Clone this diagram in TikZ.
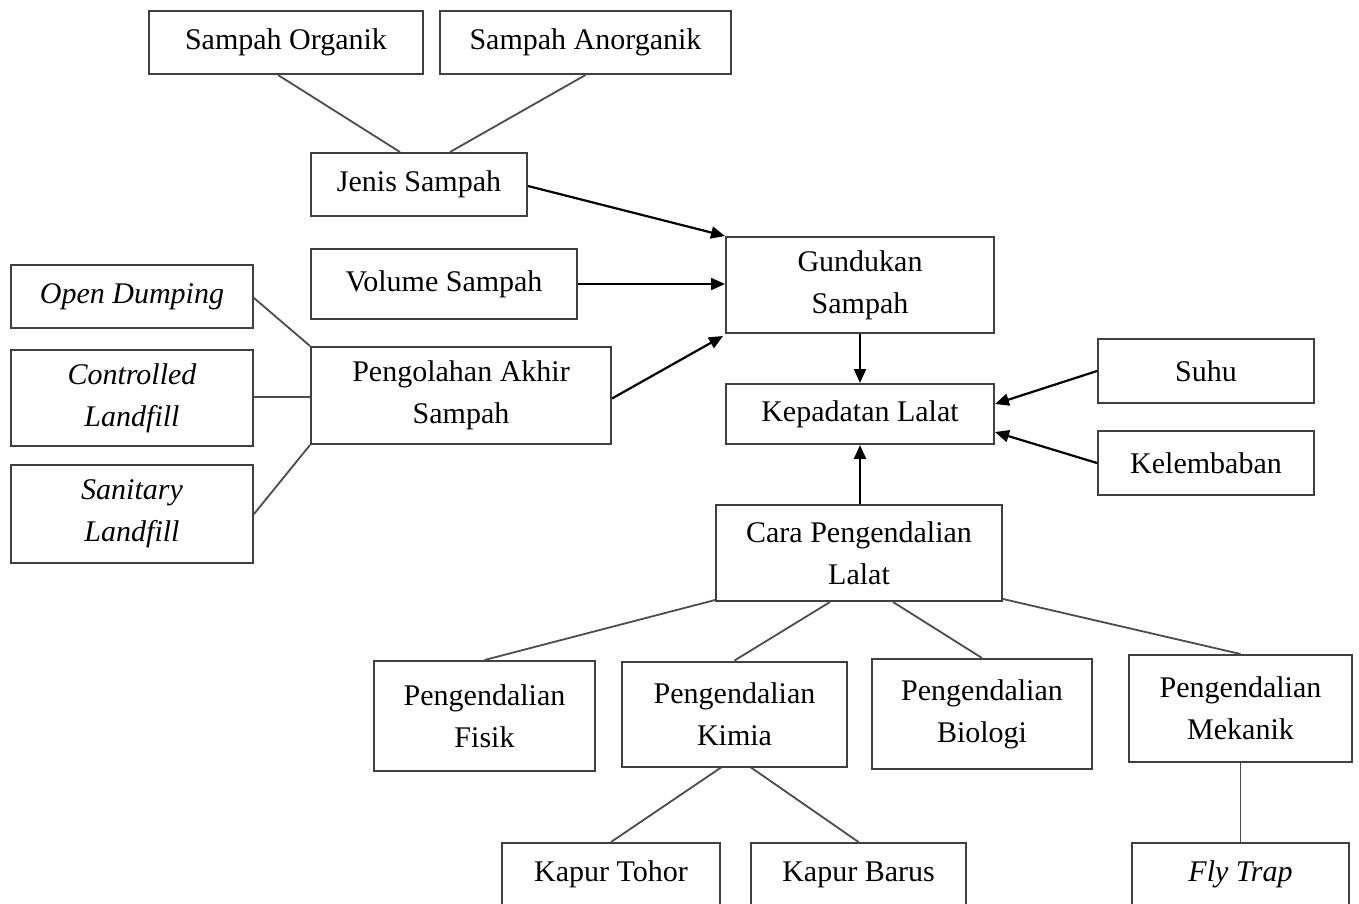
\documentclass[tikz,border=0pt]{standalone}
\usepackage{fontspec}
\setmainfont{Liberation Serif}
\usetikzlibrary{arrows.meta,calc}
\begin{document}
\begin{tikzpicture}[x=1pt,y=-1pt,
  bx/.style={draw=black!75, line width=2pt, fill=white, inner sep=0pt, align=center, font=\fontsize{30}{42}\selectfont},
  ln/.style={draw=black!70, line width=1.8pt},
  ar/.style={draw=black, line width=2.2pt, -{Triangle[length=14pt,width=12pt]}}]
\useasboundingbox (0,0) rectangle (1359,903);
\fill[white] (0,0) rectangle (1359,903);
% nodes
\node[bx, minimum width=274pt, minimum height=63pt] (org) at (286,42.5) {Sampah Organik};
\node[bx, minimum width=291pt, minimum height=63pt] (anorg) at (585.5,42.5) {Sampah Anorganik};
\node[bx, minimum width=216pt, minimum height=63pt] (jenis) at (419,184.5) {Jenis Sampah};
\node[bx, minimum width=266pt, minimum height=70pt] (volume) at (444,284) {Volume Sampah};
\node[bx, minimum width=268pt, minimum height=96pt] (gund) at (860,285) {Gundukan\\Sampah};
\node[bx, minimum width=300pt, minimum height=97pt] (peng) at (461,395.5) {Pengolahan Akhir\\Sampah};
\node[bx, minimum width=242pt, minimum height=63pt] (open) at (132,296.5) {\itshape Open Dumping};
\node[bx, minimum width=242pt, minimum height=96pt] (contr) at (132,398) {\itshape Controlled\\\itshape Landfill};
\node[bx, minimum width=242pt, minimum height=98pt] (sanit) at (132,514) {\itshape Sanitary\\\itshape Landfill};
\node[bx, minimum width=268pt, minimum height=60pt] (kep) at (860,414) {Kepadatan Lalat};
\node[bx, minimum width=216pt, minimum height=64pt] (suhu) at (1206,371) {Suhu};
\node[bx, minimum width=216pt, minimum height=64pt] (kelem) at (1206,463) {Kelembaban};
\node[bx, minimum width=286pt, minimum height=96pt] (cara) at (859,553) {Cara Pengendalian\\Lalat};
\node[bx, minimum width=221pt, minimum height=110pt] (fisik) at (484.5,716) {Pengendalian\\Fisik};
\node[bx, minimum width=225pt, minimum height=105pt] (kimia) at (734.5,714) {Pengendalian\\Kimia};
\node[bx, minimum width=220pt, minimum height=110pt] (bio) at (982,714) {Pengendalian\\Biologi};
\node[bx, minimum width=223pt, minimum height=107pt] (mek) at (1240.5,708.5) {Pengendalian\\Mekanik};
\node[bx, minimum width=218pt, minimum height=63pt] (tohor) at (611,874.5) {Kapur Tohor};
\node[bx, minimum width=215pt, minimum height=63pt] (barus) at (858.5,874.5) {Kapur Barus};
\node[bx, minimum width=217pt, minimum height=63pt] (fly) at (1240.5,874.5) {\itshape Fly Trap};
% plain connectors
\draw[ln] ([xshift=-8pt]org.south) -- ([xshift=-19pt]jenis.north);
\draw[ln] ([xshift=0pt]anorg.south) -- ([xshift=31pt]jenis.north);
\draw[ln] ([yshift=-1.5pt]open.east) -- (peng.north west);
\draw[ln] ([yshift=1pt]contr.east) -- ([yshift=1pt]contr.east -| peng.west);
\draw[ln] (sanit.east) -- (peng.south west);
\draw[ln] ([yshift=2pt]cara.south west) -- (fisik.north);
\draw[ln] ([xshift=-29pt]cara.south) -- (kimia.north);
\draw[ln] ([xshift=34pt]cara.south) -- (bio.north);
\draw[ln] ([yshift=3pt]cara.south east) -- (mek.north);
\draw[ln] ([xshift=-13.5pt]kimia.south) -- (tohor.north);
\draw[ln] ([xshift=16.5pt]kimia.south) -- (barus.north);
\draw[ln] (mek.south) -- (mek.south |- fly.north);
% arrows
\draw[ar] ([yshift=-1.5pt]jenis.east) -- (gund.north west);
\draw[ar] (volume.east) -- (volume.east -| gund.west);
\draw[ar] ([yshift=-3pt]peng.east) -- ([xshift=-2pt,yshift=-2pt]gund.south west);
\draw[ar] (gund.south) -- (kep.north);
\draw[ar] (suhu.west) -- ([yshift=10pt]kep.east);
\draw[ar] (kelem.west) -- ([yshift=-18pt]kep.east);
\draw[ar] (kep.south |- cara.north) -- (kep.south);
\end{tikzpicture}
\end{document}
